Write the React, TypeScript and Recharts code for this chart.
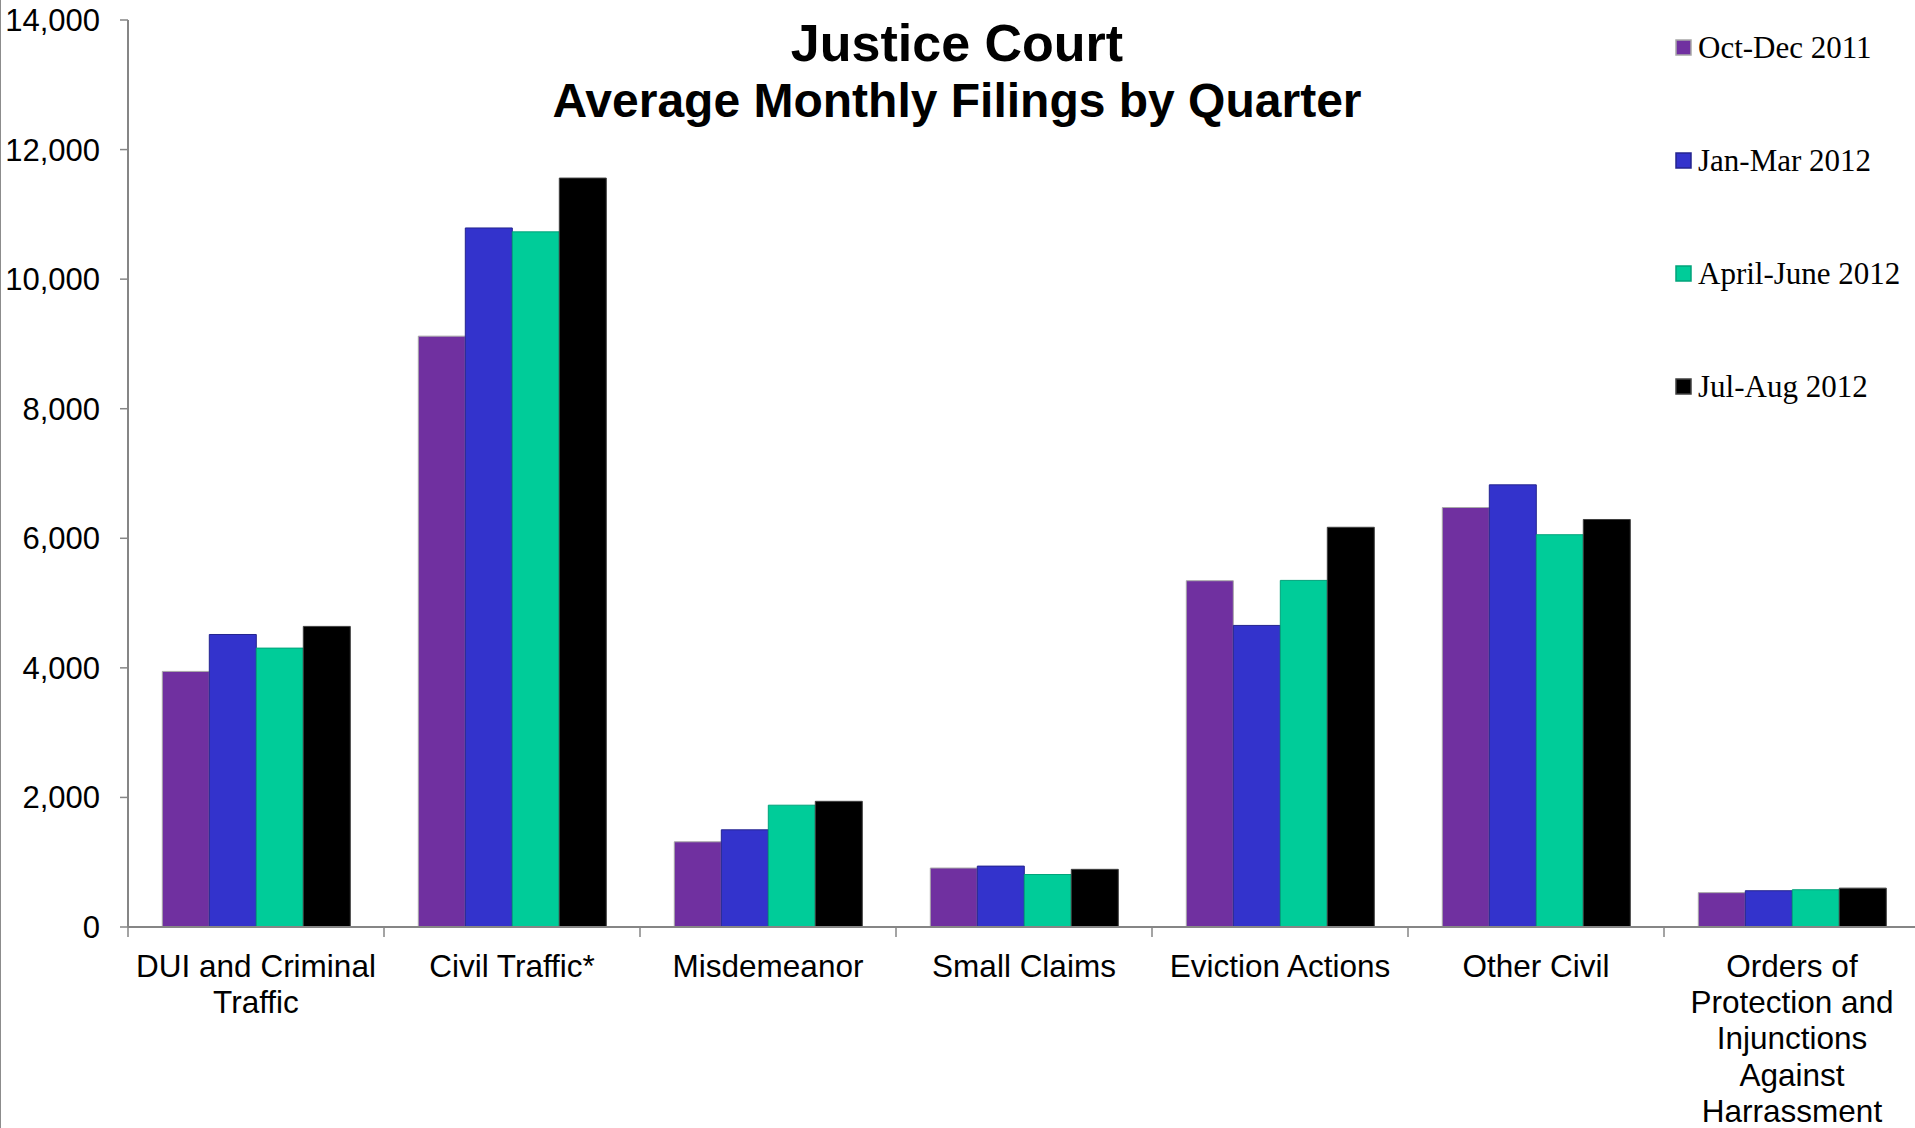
import React from 'react';
import { BarChart, Bar, XAxis, YAxis, Legend } from 'recharts';

const categories = [
  'DUI and Criminal\nTraffic',
  'Civil Traffic*',
  'Misdemeanor',
  'Small Claims',
  'Eviction Actions',
  'Other Civil',
  'Orders of\nProtection and\nInjunctions\nAgainst\nHarrassment',
];
const seriesNames = ['Oct-Dec 2011', 'Jan-Mar 2012', 'April-June 2012', 'Jul-Aug 2012'];
const octDec2011 = [3945, 9120, 1315, 910, 5345, 6475, 530];
const janMar2012 = [4515, 10790, 1500, 940, 4655, 6825, 560];
const aprJun2012 = [4305, 10730, 1880, 810, 5350, 6055, 575];
const julAug2012 = [4640, 11560, 1940, 890, 6170, 6290, 600];
const yTicks = [0, 2000, 4000, 6000, 8000, 10000, 12000, 14000];
const titleLines = ['Justice Court', 'Average Monthly Filings by Quarter'];

const fills = ['#7030A0', '#3333CC', '#00CC99', '#000000'];
const strokes = ['#A8A8A8', '#24248F', '#00A37A', '#404040'];
const AXIS = '#868686';
const SANS = '"Liberation Sans", Arial, Helvetica, sans-serif';
const SERIF = '"Liberation Serif", "Times New Roman", Times, serif';

const seriesValues = [octDec2011, janMar2012, aprJun2012, julAug2012];
const data = categories.map((c, i) => {
  const row: Record<string, any> = { category: c };
  seriesNames.forEach((n, k) => {
    row[n] = seriesValues[k][i];
  });
  return row;
});

const XTick = (props: any) => {
  const { x, y, payload, index, visibleTicksCount } = props;
  const off = payload && payload.offset ? payload.offset : 0;
  const lines = String(payload.value).split('\n');
  return (
    <g>
      <line x1={x - off} x2={x - off} y1={y} y2={y + 10} stroke={AXIS} strokeWidth={1.5} />
      {index === visibleTicksCount - 1 && (
        <line x1={x + off} x2={x + off} y1={y} y2={y + 10} stroke={AXIS} strokeWidth={1.5} />
      )}
      <text x={x} y={y + 50} textAnchor="middle" fontSize={31.5} fontFamily={SANS} fill="#000">
        {lines.map((l, i) => (
          <tspan key={i} x={x} dy={i === 0 ? 0 : 36.2}>
            {l}
          </tspan>
        ))}
      </text>
    </g>
  );
};

const LegendContent = (props: any) => {
  const payload = [...(props.payload || [])].sort(
    (a: any, b: any) => seriesNames.indexOf(a.value) - seriesNames.indexOf(b.value)
  );
  const centers = [47.5, 160.5, 273.5, 386.5];
  return (
    <svg width={255} height={420} style={{ display: 'block' }}>
      {payload.map((p: any, i: number) => {
        const k = seriesNames.indexOf(p.value);
        return (
          <g key={p.value}>
            <rect
              x={16}
              y={centers[i] - 7.5}
              width={15}
              height={15}
              fill={fills[k]}
              stroke={strokes[k]}
              strokeWidth={1.5}
            />
            <text x={38} y={centers[i] + 10} fontSize={31} fontFamily={SERIF} fill="#000">
              {p.value}
            </text>
          </g>
        );
      })}
    </svg>
  );
};

export default function App() {
  return (
    <div style={{ position: 'absolute', left: 0, top: 0, width: 1915, height: 1128, background: '#fff', overflow: 'hidden' }}>
      <div style={{ position: 'absolute', left: 0, top: 0, width: 1, height: 1128, background: '#8c8c8c' }} />
      <BarChart
        width={1915}
        height={1128}
        data={data}
        margin={{ top: 20, right: -5, bottom: 0, left: 0 }}
        barCategoryGap="13.4%"
        barGap={0}
        style={{ overflow: 'hidden' }}
      >
        <XAxis
          dataKey="category"
          interval={0}
          height={201}
          axisLine={{ stroke: AXIS, strokeWidth: 2 }}
          tickLine={false}
          tickSize={0}
          tickMargin={0}
          tick={<XTick />}
        />
        <YAxis
          width={128}
          domain={[0, 14000]}
          ticks={yTicks}
          interval={0}
          axisLine={{ stroke: AXIS, strokeWidth: 2 }}
          tickLine={{ stroke: AXIS, strokeWidth: 1.5 }}
          tickSize={8}
          tickMargin={20}
          tick={{ fontSize: 31, fontFamily: SANS, fill: '#000' }}
          tickFormatter={(v: number) => v.toLocaleString('en-US')}
        />
        <Legend
          layout="horizontal"
          verticalAlign="middle"
          align="center"
          wrapperStyle={{ left: 1660, top: 0, width: 255, height: 420 }}
          content={<LegendContent />}
        />
        {seriesNames.map((n, i) => (
          <Bar
            key={n}
            dataKey={n}
            name={n}
            fill={fills[i]}
            stroke={strokes[i]}
            strokeWidth={1}
            isAnimationActive={false}
          />
        ))}
      </BarChart>
      <svg
        width={1915}
        height={130}
        style={{ position: 'absolute', left: 0, top: 0, pointerEvents: 'none' }}
      >
        <text x={957} y={61} textAnchor="middle" fontSize={52} fontWeight="bold" fontFamily={SANS} fill="#000">
          {titleLines[0]}
        </text>
        <text x={957} y={117} textAnchor="middle" fontSize={48} fontWeight="bold" fontFamily={SANS} fill="#000">
          {titleLines[1]}
        </text>
      </svg>
    </div>
  );
}
